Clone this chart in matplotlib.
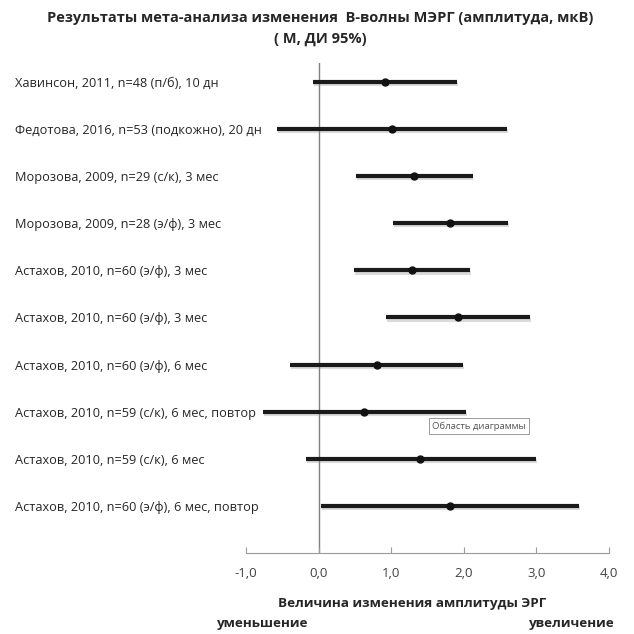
import numpy as np
import matplotlib
matplotlib.use('Agg')
import matplotlib.pyplot as plt
import matplotlib.patheffects as pe

plt.rcParams['font.family'] = ['Open Sans', 'DejaVu Sans']

studies = [
    "Хавинсон, 2011, n=48 (п/б), 10 дн",
    "Федотова, 2016, n=53 (подкожно), 20 дн",
    "Морозова, 2009, n=29 (с/к), 3 мес",
    "Морозова, 2009, n=28 (э/ф), 3 мес",
    "Астахов, 2010, n=60 (э/ф), 3 мес",
    "Астахов, 2010, n=60 (э/ф), 3 мес",
    "Астахов, 2010, n=60 (э/ф), 6 мес",
    "Астахов, 2010, n=59 (с/к), 6 мес, повтор",
    "Астахов, 2010, n=59 (с/к), 6 мес",
    "Астахов, 2010, n=60 (э/ф), 6 мес, повтор",
]
mean = [0.91, 1.01, 1.32, 1.81, 1.28, 1.92, 0.81, 0.63, 1.40, 1.81]
ci_low = [-0.08, -0.57, 0.52, 1.02, 0.49, 0.93, -0.39, -0.76, -0.18, 0.03]
ci_high = [1.91, 2.60, 2.12, 2.61, 2.09, 2.91, 1.99, 2.03, 2.99, 3.59]
xticks = [-1, 0, 1, 2, 3, 4]

W = 634
fig = plt.figure(figsize=(6.34, 6.34), dpi=100)
ax = fig.add_axes([246/W, 1-553/W, (609-246)/W, (553-63)/W])

ypos = np.arange(len(studies), 0, -1)
shadow = [pe.SimpleLineShadow(offset=(0.7, -1.6), shadow_color='#999999', alpha=0.35), pe.Normal()]
for y, m, lo, hi in zip(ypos, mean, ci_low, ci_high):
    ax.plot([lo, hi], [y, y], color='#1a1a1a', lw=3, solid_capstyle='butt', path_effects=shadow, zorder=3)
    ax.plot([m], [y], 'o', color='#111111', ms=5, zorder=4)

ax.axvline(0, color='#7f7f7f', lw=1, zorder=1)
ax.set_xlim(-1, 4)
ax.set_ylim(0, 10.4)
ax.set_xticks(xticks)
ax.set_xticklabels(["{:.1f}".format(v).replace('.', ',') for v in xticks], fontsize=9.5, color='#404040')
ax.tick_params(axis='x', direction='in', length=4, color='#999999', pad=10)
ax.set_yticks(ypos)
ax.set_yticklabels(studies, fontsize=9.2, color='#262626', ha='left')
ax.tick_params(axis='y', length=0, pad=231*0.72)
for s in ['left', 'right', 'top']:
    ax.spines[s].set_visible(False)
ax.spines['bottom'].set_color('#999999')

fig.text(320/W, 1-18/W, "Результаты мета-анализа изменения  В-волны МЭРГ (амплитуда, мкВ)",
         ha='center', va='center', fontsize=10.5, fontweight='bold', color='#262626')
fig.text(320/W, 1-39/W, "( М, ДИ 95%)", ha='center', va='center', fontsize=10.5, fontweight='bold', color='#262626')
fig.text(412/W, 1-603/W, "Величина изменения амплитуды ЭРГ", ha='center', va='center',
         fontsize=9.7, fontweight='bold', color='#262626')
fig.text(217/W, 1-623/W, "уменьшение", ha='left', va='center', fontsize=9.7, fontweight='bold', color='#262626')
fig.text(615/W, 1-623/W, "увеличение", ha='right', va='center', fontsize=9.7, fontweight='bold', color='#262626')

fig.text(432/W, 1-426/W, "Область диаграммы", ha='left', va='center', fontsize=6.8, color='#555555',
         bbox=dict(boxstyle='square,pad=0.35', fc='white', ec='#999999', lw=0.7))

fig.savefig('out.png', dpi=100)
